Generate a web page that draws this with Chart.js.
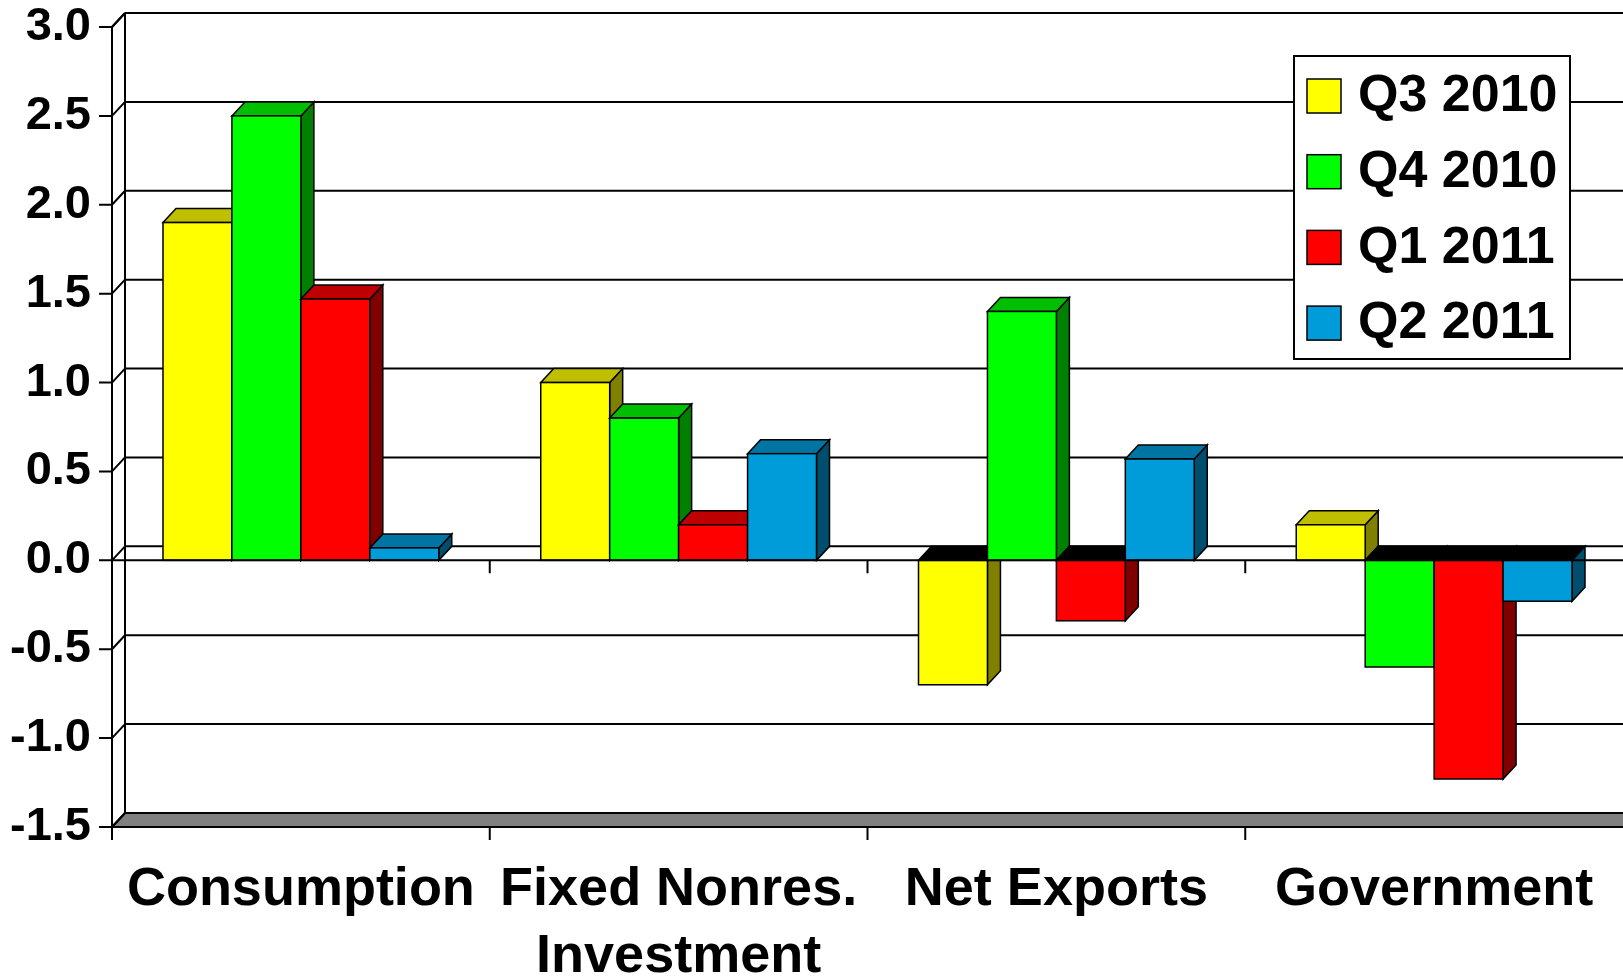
<!DOCTYPE html>
<html>
<head>
<meta charset="utf-8">
<script src="https://cdn.jsdelivr.net/npm/chart.js@4.4.0/dist/chart.umd.min.js"></script>
<style>
  html, body { margin: 0; padding: 0; background: #fff; }
  #wrap { width: 1623px; height: 978px; }
</style>
</head>
<body>
<div id="wrap"><canvas id="gdpChart" width="1623" height="978"></canvas></div>
<script>
// data
const categories = ['Consumption', ['Fixed Nonres.', 'Investment'], 'Net Exports', 'Government'];
const seriesLabels = ['Q3 2010', 'Q4 2010', 'Q1 2011', 'Q2 2011'];
const q3_2010 = [1.9, 1.0, -0.7, 0.2];
const q4_2010 = [2.5, 0.8, 1.4, -0.6];
const q1_2011 = [1.47, 0.2, -0.34, -1.23];
const q2_2011 = [0.07, 0.6, 0.57, -0.23];
const yTicks = [-1.5, -1.0, -0.5, 0.0, 0.5, 1.0, 1.5, 2.0, 2.5, 3.0];

const seriesColors = ['#ffff00', '#00ff00', '#ff0000', '#009cda'];
const FONT = '"Liberation Sans", Arial, sans-serif';

// 3d depth of the box
const depthX = 13;
const depthY = -14;

function shade(hex, f) {
    const n = parseInt(hex.slice(1), 16);
    const r = Math.round(((n >> 16) & 255) * f);
    const g = Math.round(((n >> 8) & 255) * f);
    const b = Math.round((n & 255) * f);
    return `rgb(${r},${g},${b})`;
}

function poly(ctx, pts, fill) {
    ctx.beginPath();
    ctx.moveTo(pts[0][0], pts[0][1]);
    for (let i = 1; i < pts.length; i++) ctx.lineTo(pts[i][0], pts[i][1]);
    ctx.closePath();
    ctx.fillStyle = fill;
    ctx.fill();
    ctx.stroke();
}

const box3d = {
    id: 'box3d',
    beforeDatasetsDraw(chart) {
        const ctx = chart.ctx;
        const a = chart.chartArea;
        const y = chart.scales.y;
        const yb = y.getPixelForValue(y.min);
        const farRight = chart.width + 20;

        ctx.save();
        ctx.strokeStyle = '#000';
        ctx.lineWidth = 2;

        // floor
        poly(ctx, [[a.left, yb], [a.left + depthX, yb + depthY], [farRight, yb + depthY], [farRight, yb]], '#808080');

        // back wall grid lines + little diagonals at the ticks
        y.ticks.forEach(t => {
            const py = y.getPixelForValue(t.value);
            ctx.beginPath();
            ctx.moveTo(a.left + depthX, py + depthY);
            ctx.lineTo(farRight, py + depthY);
            ctx.moveTo(a.left, py);
            ctx.lineTo(a.left + depthX, py + depthY);
            ctx.stroke();
        });
        ctx.beginPath();
        ctx.moveTo(a.left + depthX, a.top + depthY);
        ctx.lineTo(a.left + depthX, yb + depthY);
        ctx.stroke();

        // bars, dataset by dataset so the next bar hides the side of the previous one
        ctx.lineWidth = 1.5;
        chart.data.datasets.forEach((ds, i) => {
            const meta = chart.getDatasetMeta(i);
            const col = ds.backgroundColor;
            meta.data.forEach(el => {
                const left = el.x - el.width / 2;
                const right = el.x + el.width / 2;
                const top = Math.min(el.y, el.base);
                const bottom = Math.max(el.y, el.base);
                const neg = el.y > el.base;
                // side
                poly(ctx, [[right, top], [right + depthX, top + depthY], [right + depthX, bottom + depthY], [right, bottom]], shade(col, 0.5));
                // top
                poly(ctx, [[left, top], [left + depthX, top + depthY], [right + depthX, top + depthY], [right, top]], neg ? '#000' : shade(col, 0.75));
                // front
                ctx.fillStyle = col;
                ctx.fillRect(left, top, right - left, bottom - top);
                ctx.strokeRect(left, top, right - left, bottom - top);
            });
        });
        ctx.restore();
        return false;
    },
    afterDraw(chart) {
        const ctx = chart.ctx;
        const a = chart.chartArea;
        const x = chart.scales.x;
        const y = chart.scales.y;
        const yb = y.getPixelForValue(y.min);
        const zero = y.getPixelForValue(0);
        const tick = 13;

        ctx.save();
        ctx.strokeStyle = '#000';
        ctx.lineWidth = 2;
        ctx.beginPath();
        // front axis
        ctx.moveTo(a.left, a.top);
        ctx.lineTo(a.left, yb + tick);
        ctx.moveTo(a.left, a.top);
        ctx.lineTo(a.left + depthX, a.top + depthY);
        y.ticks.forEach(t => {
            const py = y.getPixelForValue(t.value);
            ctx.moveTo(a.left - tick, py);
            ctx.lineTo(a.left, py);
        });
        ctx.moveTo(a.left, zero);
        ctx.lineTo(chart.width, zero);
        ctx.moveTo(a.left, yb);
        ctx.lineTo(chart.width, yb);
        for (let j = 1; j < categories.length; j++) {
            const bx = (x.getPixelForValue(j - 1) + x.getPixelForValue(j)) / 2;
            ctx.moveTo(bx, zero);
            ctx.lineTo(bx, zero + tick);
            ctx.moveTo(bx, yb);
            ctx.lineTo(bx, yb + tick);
        }
        ctx.stroke();

        // legend box
        const lx = a.right - 329;
        const ly = a.top + 29;
        const lw = 276;
        const lh = 303;
        ctx.fillStyle = '#fff';
        ctx.fillRect(lx, ly, lw, lh);
        ctx.strokeRect(lx, ly, lw, lh);
        ctx.font = `bold 52px ${FONT}`;
        ctx.textBaseline = 'middle';
        ctx.lineWidth = 1.5;
        chart.data.datasets.forEach((ds, i) => {
            const cy = ly + 40 + i * 75.7;
            ctx.fillStyle = ds.backgroundColor;
            ctx.fillRect(lx + 13, cy - 17, 34, 34);
            ctx.strokeRect(lx + 13, cy - 17, 34, 34);
            ctx.fillStyle = '#000';
            ctx.fillText(ds.label, lx + 64, cy + 1);
        });
        ctx.restore();
    }
};

const seriesData = [q3_2010, q4_2010, q1_2011, q2_2011];

new Chart(document.getElementById('gdpChart'), {
    type: 'bar',
    data: {
        labels: categories,
        datasets: seriesData.map((d, i) => ({
            label: seriesLabels[i],
            data: d,
            backgroundColor: seriesColors[i],
            borderColor: '#000',
            borderWidth: 1.5,
            categoryPercentage: 0.73,
            barPercentage: 1.0
        }))
    },
    options: {
        responsive: false,
        animation: false,
        devicePixelRatio: 1,
        layout: { padding: { top: 27, right: 0, left: 0, bottom: 0 } },
        plugins: {
            legend: { display: false },
            tooltip: { enabled: false }
        },
        scales: {
            x: {
                grid: { display: false, drawTicks: false },
                border: { display: false },
                ticks: {
                    color: '#000',
                    font: { family: FONT, size: 54, weight: 'bold', lineHeight: 1.23 },
                    padding: 30,
                    maxRotation: 0,
                    autoSkip: false
                },
                afterFit: axis => {
                    axis.height = 151;
                    axis.paddingLeft = 0;
                    axis.paddingRight = 0;
                    axis.paddingTop = 0;
                    axis.paddingBottom = 0;
                }
            },
            y: {
                min: -1.5,
                max: 3.0,
                grid: { display: false, drawTicks: false },
                border: { display: false },
                afterBuildTicks: axis => { axis.ticks = yTicks.map(v => ({ value: v })); },
                ticks: {
                    color: '#000',
                    font: { family: FONT, size: 47, weight: 'bold', lineHeight: 1.0 },
                    padding: 21,
                    callback: v => v.toFixed(1)
                },
                afterFit: axis => {
                    axis.width = 112;
                    axis.paddingLeft = 0;
                    axis.paddingRight = 0;
                    axis.paddingTop = 0;
                    axis.paddingBottom = 0;
                }
            }
        }
    },
    plugins: [box3d]
});
</script>
</body>
</html>
